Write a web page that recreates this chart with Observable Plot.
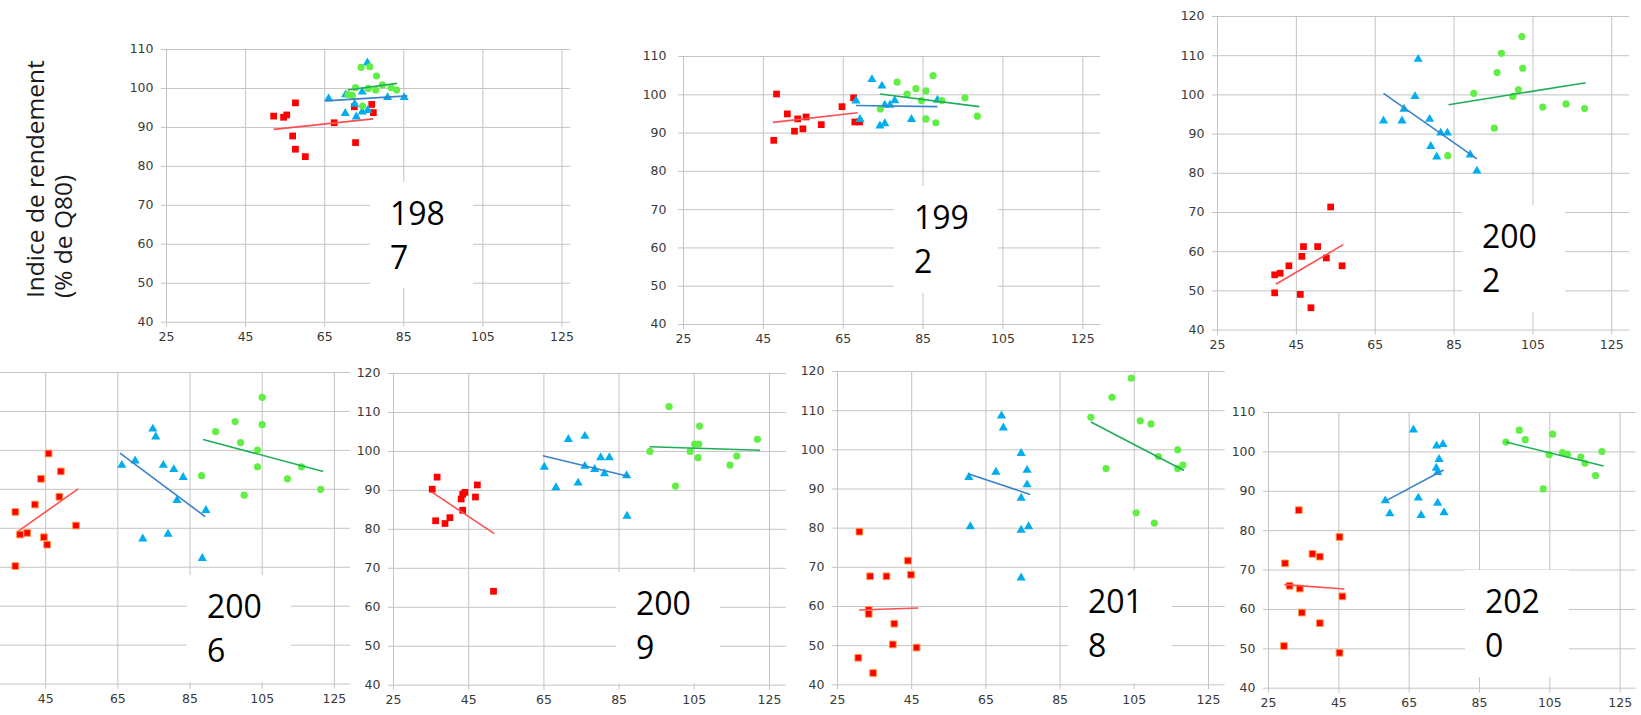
<!DOCTYPE html>
<html><head><meta charset="utf-8">
<script src="https://cdn.jsdelivr.net/npm/d3@7"></script>
<script src="https://cdn.jsdelivr.net/npm/@observablehq/plot@0.6"></script>
<style>
html,body{margin:0;padding:0;background:#fff;}
#root{position:relative;width:1641px;height:715px;overflow:hidden;background:#fff;}
#root > svg{position:absolute;}
</style></head><body><div id="root"></div>
<script>
// ---- tick labels ----
const xTicks = [25, 45, 65, 85, 105, 125];
const yTicks110 = [40, 50, 60, 70, 80, 90, 100, 110];
const yTicks120 = [40, 50, 60, 70, 80, 90, 100, 110, 120];
const years = ["1987", "1992", "2002", "2006", "2009", "2018", "2020"];
const yTitle = ["Indice de rendement", "(% de Q80)"];

// ---- series values: [x, y] ----
const red1987 = [[52.1,92.9],[54.6,92.6],[55.4,93.2],[57.6,96.3],[56.9,87.8],[57.6,84.4],[60.1,82.5],[67.4,91.2],[72.5,95.3],[72.8,86.1],[76.9,95.9],[77.3,93.8]];
const blue1987 = [[66.0,97.4],[70.2,93.6],[70.3,98.4],[72.6,96.0],[73.0,92.7],[74.5,99.1],[74.5,94.0],[75.8,106.6],[75.9,94.4],[80.9,97.7],[85.1,97.7]];
const green1987 = [[74.2,105.4],[76.4,105.6],[78.1,103.2],[72.8,100.2],[70.9,98.4],[72.0,98.2],[76.0,100.0],[77.9,99.6],[79.6,100.9],[81.8,100.2],[83.2,99.6],[74.6,95.5]];
const trend1987 = {red:[52.1,89.5,77.3,92.2], blue:[65.2,96.8,85.9,98.1], green:[70.8,99.6,83.3,101.3]};

const red1992 = [[48.3,100.2],[47.6,88.1],[51.0,95.0],[53.6,93.7],[55.7,94.2],[52.8,90.5],[54.9,91.1],[59.5,92.2],[64.7,96.9],[67.6,99.2],[67.9,92.9],[69.1,92.9]];
const blue1992 = [[72.2,104.0],[74.7,102.3],[68.2,98.4],[69.2,93.6],[74.2,91.9],[75.4,92.5],[75.4,97.3],[76.7,97.3],[77.9,98.5],[82.1,93.6],[88.6,98.6]];
const green1992 = [[87.5,105.0],[78.5,103.3],[83.2,101.6],[85.7,101.0],[81.0,100.2],[84.6,98.5],[89.7,98.5],[95.5,99.2],[74.3,96.3],[85.7,93.7],[88.2,92.7],[98.6,94.4]];
const trend1992 = {red:[47.4,92.8,68.6,95.3], blue:[68.2,97.2,88.6,96.9], green:[74.2,100.2,99.1,96.9]};

const red2002 = [[39.5,54.1],[40.9,54.5],[43.1,56.4],[39.5,49.5],[46.8,61.3],[46.4,58.8],[46.0,49.1],[48.7,45.7],[50.4,61.3],[52.6,58.4],[53.7,71.4],[56.6,56.4]];
const blue2002 = [[67.1,93.4],[71.8,93.4],[72.3,96.4],[75.1,99.6],[75.9,109.1],[78.8,93.8],[81.6,90.3],[83.3,90.3],[79.1,86.9],[80.6,84.2],[89.1,84.7],[90.8,80.6]];
const green2002 = [[83.4,84.5],[90.0,100.4],[95.2,91.5],[97.0,110.6],[95.9,105.7],[102.2,114.9],[102.4,106.8],[101.3,101.3],[99.9,99.6],[107.5,96.9],[113.4,97.7],[118.1,96.5]];
const trend2002 = {red:[39.8,51.7,56.9,61.8], blue:[67.1,100.4,90.8,83.7], green:[83.6,97.5,118.4,103.1]};

const red2006 = [[36.6,84.2],[36.6,70.3],[37.9,78.4],[39.9,78.8],[42.0,86.1],[43.7,92.7],[45.8,99.2],[44.5,77.7],[45.4,75.8],[48.8,88.1],[49.2,94.6],[53.4,80.7]];
const blue2006 = [[66.1,96.2],[69.8,97.3],[74.7,105.5],[75.5,103.5],[77.6,96.2],[80.5,95.1],[83.1,93.1],[81.4,87.2],[71.9,77.3],[78.9,78.5],[89.4,84.6],[88.4,72.3]];
const green2006 = [[105.0,113.6],[97.5,107.4],[92.1,104.8],[105.0,106.6],[99.0,102.0],[103.7,100.1],[103.7,95.8],[88.2,93.5],[100.0,88.5],[112.0,92.7],[115.9,95.8],[121.2,90.0]];
const trend2006 = {red:[37.3,79.2,54.0,90.1], blue:[65.6,99.3,89.2,83.0], green:[88.6,102.8,121.9,94.6]};

const red2009 = [[35.3,90.3],[36.6,93.4],[36.2,82.2],[38.7,81.5],[40.0,83.0],[43.0,87.8],[43.4,89.0],[44.0,89.5],[43.4,84.9],[46.8,88.3],[47.3,91.4],[51.6,64.1]];
const blue2009 = [[65.1,96.0],[68.2,90.7],[71.5,103.1],[74.1,91.9],[75.9,103.9],[75.9,96.2],[78.5,95.4],[80.1,98.4],[81.1,94.3],[82.4,98.4],[87.0,93.8],[87.1,83.4]];
const green2009 = [[98.3,111.5],[93.2,100.0],[100.0,91.1],[103.9,100.0],[105.1,101.9],[106.2,101.9],[106.4,106.5],[106.0,98.4],[114.5,96.5],[116.3,98.8],[121.8,103.1]];
const trend2009 = {red:[35.3,89.5,51.8,78.9], blue:[64.7,98.9,87.9,93.5], green:[93.1,101.2,122.5,100.3]};

const red2018 = [[30.9,79.1],[44.0,71.7],[33.8,67.7],[38.2,67.7],[44.8,68.1],[33.4,59.1],[33.4,58.1],[40.3,55.6],[39.9,50.3],[46.3,49.5],[30.6,46.9],[34.6,43.0]];
const blue2018 = [[69.2,108.7],[69.7,105.6],[74.5,99.1],[67.7,94.3],[60.4,93.0],[76.1,94.8],[76.1,91.1],[74.5,87.7],[60.8,80.4],[74.5,79.5],[76.5,80.4],[74.5,67.3]];
const green2018 = [[104.2,118.3],[99.0,113.4],[93.3,108.3],[106.6,107.4],[109.5,106.6],[116.7,100.0],[111.5,98.3],[97.4,95.2],[116.7,95.2],[118.1,96.1],[105.5,83.9],[110.4,81.3]];
const trend2018 = {red:[30.8,59.1,46.8,59.6], blue:[60.2,93.9,76.9,88.6], green:[93.3,107.1,118.4,94.7]};

const red2020 = [[33.6,85.2],[29.7,71.7],[37.5,74.1],[39.6,73.4],[45.2,78.4],[31.0,66.0],[33.9,65.3],[46.0,63.3],[34.5,59.2],[39.6,56.5],[29.4,50.7],[45.2,49.0]];
const blue2020 = [[66.2,105.6],[72.8,101.5],[74.6,101.9],[73.5,98.1],[72.7,95.9],[73.1,94.8],[58.2,87.6],[59.5,84.3],[67.6,88.3],[68.4,83.9],[73.1,87.0],[74.9,84.6]];
const green2020 = [[92.5,102.5],[96.3,105.5],[98.0,103.1],[105.8,104.5],[104.8,99.3],[108.6,99.8],[110.0,99.4],[113.8,98.7],[115.0,97.1],[119.8,100.1],[118.0,94.0],[103.1,90.6]];
const trend2020 = {red:[29.5,66.3,46.6,65.2], blue:[58.2,87.5,74.8,95.4], green:[92.5,102.5,120.3,96.4]};

// ---- layout (pixel placement of each panel) ----
const panels = [
  {year:years[0], red:red1987, blue:blue1987, green:green1987, trend:trend1987, ymax:110, xmax:127.2, x25:166,   x125:561.5, yTop:49.3,  yBot:322,   pad:8,  yText:true,  xLabelMin:25, orange:false, box:[370,182,103,106]},
  {year:years[1], red:red1992, blue:blue1992, green:green1992, trend:trend1992, ymax:110, xmax:129.5, x25:682.7, x125:1082,  yTop:56,    yBot:324,   pad:12, yText:true,  xLabelMin:25, orange:false, box:[894,186,104,107]},
  {year:years[2], red:red2002, blue:blue2002, green:green2002, trend:trend2002, ymax:120, xmax:129.5, x25:1216.7,x125:1611,  yTop:15.7,  yBot:329.3, pad:8,  yText:true,  xLabelMin:25, orange:false, box:[1462,205,103,107]},
  {year:years[3], red:red2006, blue:blue2006, green:green2006, trend:trend2006, ymax:120, xmax:129.5, x25:-27.2, x125:333.7, yTop:371.7, yBot:683.3, pad:8,  yText:false, xLabelMin:45, orange:true,  box:[187,575,104,107]},
  {year:years[4], red:red2009, blue:blue2009, green:green2009, trend:trend2009, ymax:120, xmax:129.5, x25:393.3, x125:769.3, yTop:373.3, yBot:685,   pad:8,  yText:true,  xLabelMin:25, orange:false, box:[616,572,104,111]},
  {year:years[5], red:red2018, blue:blue2018, green:green2018, trend:trend2018, ymax:120, xmax:129.5, x25:836.7, x125:1207.7,yTop:371,   yBot:684.3, pad:8,  yText:true,  xLabelMin:25, orange:true,  box:[1068,570,104,113]},
  {year:years[6], red:red2020, blue:blue2020, green:green2020, trend:trend2020, ymax:110, xmax:129.5, x25:1268.3,x125:1620,  yTop:412,   yBot:687.7, pad:8,  yText:true,  xLabelMin:25, orange:true,  box:[1465,570,104,107]}
];

const root = document.getElementById("root");
const GRID = "#c4c4c4";
const LABEL = "#383838";
const toObj = a => a.map(([x, y]) => ({x, y}));
const seg = t => [{x1:t[0], y1:t[1], x2:t[2], y2:t[3]}];

for (const p of panels) {
  const mT = 8, mB = 30, mR = 16, mL = 44, xmax = p.xmax;
  const ppu = (p.x125 - p.x25) / 100;
  const W = mL + ppu * (xmax - 25) + mR;
  const H = mT + (p.yBot - p.yTop) + mB;
  const yT = p.ymax === 110 ? yTicks110 : yTicks120;
  const svg = Plot.plot({
    width: W, height: H,
    marginLeft: mL, marginRight: mR, marginTop: mT, marginBottom: mB,
    style: {background: "transparent", fontFamily: "DejaVu Sans", fontSize: "12.5px", overflow: "hidden"},
    x: {domain: [25, xmax], label: null},
    y: {domain: [40, p.ymax], label: null},
    marks: [
      Plot.gridX(xTicks, {stroke: GRID, strokeOpacity: 1}),
      Plot.gridY(yT, {stroke: GRID, strokeOpacity: 1}),
      Plot.axisX(xTicks, {tickSize: 5, stroke: GRID, strokeOpacity: 1, fill: "none", label: null}),
      Plot.axisX(xTicks.filter(d => d >= p.xLabelMin), {tickSize: 0, tickPadding: 10, fill: LABEL, label: null, tickFormat: d => String(d)}),
      Plot.axisY(yT, {tickSize: 5, tickPadding: p.pad, stroke: GRID, strokeOpacity: 1, fill: p.yText ? LABEL : "none", label: null, tickFormat: d => String(d)}),
      Plot.dot(toObj(p.red), {x: "x", y: "y", symbol: "square", r: 3.8, fill: "#ff0000", stroke: p.orange ? "#ff9c45" : "none", strokeWidth: 1}),
      Plot.dot(toObj(p.blue), {x: "x", y: "y", symbol: "triangle", r: 3.4, fill: "#00aeef", stroke: "none"}),
      Plot.dot(toObj(p.green), {x: "x", y: "y", symbol: "circle", r: 3.6, fill: "#62ef45", stroke: "none"}),
      Plot.link(seg(p.trend.red), {x1: "x1", y1: "y1", x2: "x2", y2: "y2", stroke: "#ff4f4f", strokeWidth: 1.6}),
      Plot.link(seg(p.trend.blue), {x1: "x1", y1: "y1", x2: "x2", y2: "y2", stroke: "#3b82c9", strokeWidth: 1.6}),
      Plot.link(seg(p.trend.green), {x1: "x1", y1: "y1", x2: "x2", y2: "y2", stroke: "#1fae58", strokeWidth: 1.6})
    ]
  });
  svg.style.left = (p.x25 - mL) + "px";
  svg.style.top = (p.yTop - mT) + "px";
  root.appendChild(svg);
}

// ---- overlay: year boxes and y title ----
const ov = d3.select(root).append("svg")
  .attr("width", 1641).attr("height", 715)
  .style("left", "0px").style("top", "0px");
for (const p of panels) {
  const [bx, by, bw, bh] = p.box;
  ov.append("rect").attr("x", bx).attr("y", by).attr("width", bw).attr("height", bh).attr("fill", "#fff");
  const t = ov.append("text").attr("font-family", "Open Sans").attr("font-size", 32).attr("fill", "#000");
  t.append("tspan").attr("x", bx + 20).attr("y", by + 43).text(p.year.slice(0, 3));
  t.append("tspan").attr("x", bx + 20).attr("y", by + 87).text(p.year.slice(3));
}
const tx = [34, 62];
yTitle.forEach((s, i) => {
  ov.append("text")
    .attr("transform", `translate(${tx[i]},298) rotate(-90)`)
    .attr("font-family", "Open Sans").attr("font-size", 24.5).attr("fill", "#1a1a1a")
    .attr("dominant-baseline", "central").attr("text-anchor", "start")
    .text(s);
});
</script></body></html>
